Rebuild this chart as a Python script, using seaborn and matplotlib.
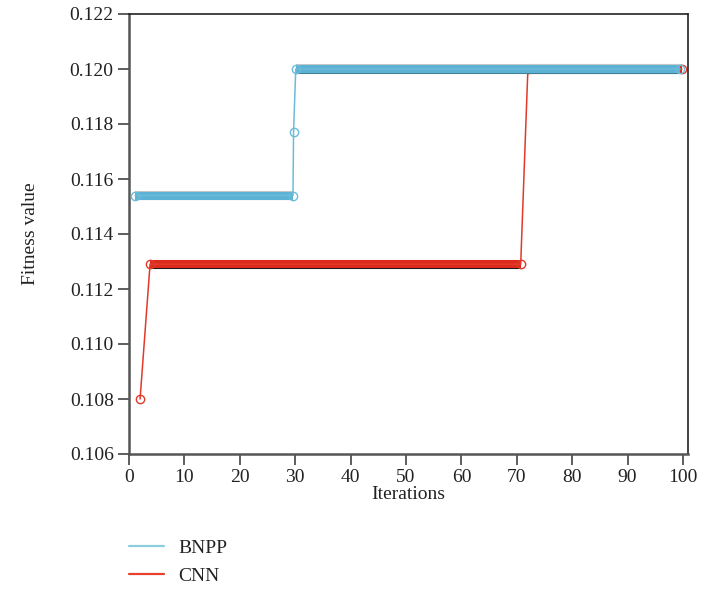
import numpy as np
import pandas as pd
import matplotlib
matplotlib.use("Agg")
import matplotlib.pyplot as plt
import matplotlib.patheffects as pe
from matplotlib.lines import Line2D
import seaborn as sns

# ---- data ----
bnpp_iter = [1.1, 29.6, 29.7, 30.1, 99.5]
bnpp_fit = [0.1154, 0.1154, 0.1177, 0.1200, 0.1200]
cnn_iter = [2.0, 3.8, 70.7, 72.0, 99.8]
cnn_fit = [0.1080, 0.1129, 0.1129, 0.1200, 0.1200]
# flat (dense) plateau segments: pairs of point indices
bnpp_plateaus = [(0, 1), (3, 4)]
cnn_plateaus = [(1, 2), (3, 4)]

series_names = ["BNPP", "CNN"]
x_ticks = [0, 10, 20, 30, 40, 50, 60, 70, 80, 90, 100]
y_ticks = [0.106, 0.108, 0.110, 0.112, 0.114, 0.116, 0.118, 0.120, 0.122]

sns.set_style("ticks")
plt.rcParams["font.family"] = ["Liberation Serif", "DejaVu Serif"]

fig = plt.figure(figsize=(7.02, 5.91), dpi=100)
ax = fig.add_axes([129 / 702, 1 - 454 / 591, (688 - 129) / 702, (454 - 14) / 591])

blue_band = "#5cb2d5"
blue_line = "#6cbcd8"
red_band = "#db2b1c"
red_line = "#e23a2a"

def draw_series(xs, ys, plateaus, band_color, line_color, shadow_color, z):
    df = pd.DataFrame({"Iterations": xs, "Fitness": ys})
    # thick plateau bands
    for i0, i1 in plateaus:
        seg = df.iloc[i0:i1 + 1]
        sns.lineplot(data=seg, x="Iterations", y="Fitness", ax=ax, color=band_color,
                     linewidth=5.8, estimator=None, sort=False, legend=False,
                     zorder=z, solid_capstyle="butt",
                     path_effects=[pe.Stroke(linewidth=5.8, foreground="#c8c8c8", offset=(0, 0.45)),
                                   pe.Stroke(linewidth=5.8, foreground=shadow_color, offset=(0, -0.5)),
                                   pe.Normal()])
    # thin connecting line with hollow circle markers
    sns.lineplot(data=df, x="Iterations", y="Fitness", ax=ax, color=line_color,
                 linewidth=1.1, estimator=None, sort=False, legend=False,
                 marker="o", markersize=6, markerfacecolor="none",
                 markeredgecolor=line_color, markeredgewidth=1.0, zorder=z + 0.5)

draw_series(cnn_iter, cnn_fit, cnn_plateaus, red_band, red_line, "#1a1a1a", 2)
draw_series(bnpp_iter, bnpp_fit, bnpp_plateaus, blue_band, blue_line, "#3e7f90", 3)

ax.set_xlim(0, 100.9)
ax.set_ylim(0.106, 0.122)
ax.set_xticks(x_ticks)
ax.set_yticks(y_ticks)
ax.set_yticklabels([f"{v:.3f}" for v in y_ticks])
ax.tick_params(axis="both", labelsize=14, length=8, width=1.1, color="#333333",
               direction="out", pad=3, labelcolor="#222222")
for side in ["left", "bottom"]:
    ax.spines[side].set_color("#555555")
    ax.spines[side].set_linewidth(1.8)
for side in ["top", "right"]:
    ax.spines[side].set_visible(True)
    ax.spines[side].set_color("#222222")
    ax.spines[side].set_linewidth(1.2)

ax.set_xlabel("Iterations", fontsize=14, color="#222222", labelpad=0)
ax.set_ylabel("Fitness value", fontsize=14, color="#222222", labelpad=22)

handles = [Line2D([], [], color="#8ecde0", linewidth=1.6),
           Line2D([], [], color="#e8402f", linewidth=1.6)]
fig.legend(handles, series_names, loc="upper left",
           bbox_to_anchor=(129 / 702, 1 - 539 / 591), frameon=False,
           fontsize=14, handlelength=1.8, handletextpad=0.75,
           labelspacing=0.55, borderpad=0, borderaxespad=0,
           labelcolor="#222222")

fig.savefig("out.png", dpi=100)
